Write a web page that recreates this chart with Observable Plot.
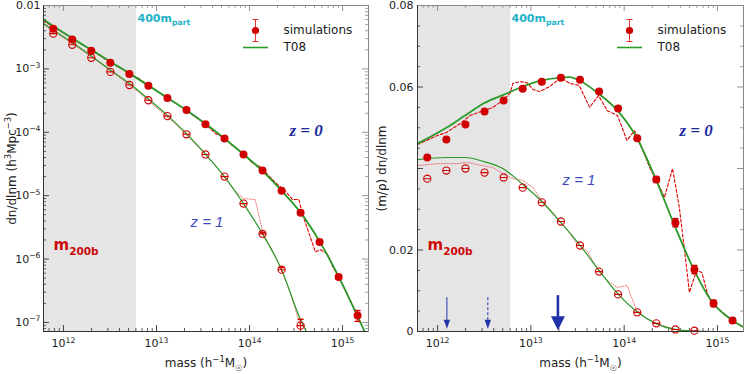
<!DOCTYPE html>
<html><head><meta charset="utf-8">
<script src="https://cdn.jsdelivr.net/npm/d3@7"></script>
<script src="https://cdn.jsdelivr.net/npm/@observablehq/plot@0.6"></script>
<style>
body{margin:0;background:#fff;}
#wrap{display:flex;width:747px;height:374px;overflow:hidden;}
</style></head><body><div id="wrap"></div>
<script>
// ---------- data ----------
const masses = [7.76e11, 1.243e12, 1.99e12, 3.19e12, 5.11e12, 8.18e12, 1.31e13, 2.10e13, 3.36e13, 5.38e13, 8.61e13, 1.38e14, 2.21e14, 3.54e14, 5.66e14, 9.07e14, 1.45e15];

// left panel: dn/dlnm
const simZ0 = [4.3e-3, 2.9e-3, 1.93e-3, 1.25e-3, 8.3e-4, 5.4e-4, 3.47e-4, 2.24e-4, 1.34e-4, 8.0e-5, 4.47e-5, 2.5e-5, 1.2e-5, 5.4e-6, 1.86e-6, 5.2e-7, 1.29e-7];
const simZ0Err = [0,0,0,0,0,0,0,0,0,0,0,0,0,3e-7,1.2e-7,4e-8,2.5e-8];
const simZ1 = [3.6e-3, 2.4e-3, 1.5e-3, 8.96e-4, 5.57e-4, 3.2e-4, 1.8e-4, 9.3e-5, 4.47e-5, 2.0e-5, 7.5e-6, 2.5e-6, 6.8e-7, 8.9e-8];
const simZ1Err = [0,0,0,0,0,0,0,0,0,0,0,1.5e-7,6e-8,2.3e-8];

const t08Z0Mass = [6.1e11, 7.76e11, 1.243e12, 1.99e12, 3.19e12, 5.11e12, 8.18e12, 1.31e13, 2.10e13, 3.36e13, 5.38e13, 8.61e13, 1.38e14, 2.21e14, 3.54e14, 5.66e14, 9.07e14, 1.45e15, 1.9e15];
const t08Z0 = [6.0e-3, 4.75e-3, 3.05e-3, 2.0e-3, 1.3e-3, 8.5e-4, 5.45e-4, 3.5e-4, 2.22e-4, 1.36e-4, 8.0e-5, 4.5e-5, 2.45e-5, 1.2e-5, 5.4e-6, 1.9e-6, 5.3e-7, 1.25e-7, 5.3e-8];
const t08Z1Mass = [6.1e11, 7.76e11, 1.243e12, 1.99e12, 3.19e12, 5.11e12, 8.18e12, 1.31e13, 2.10e13, 3.36e13, 5.38e13, 8.61e13, 1.38e14, 2.21e14, 3.54e14, 4.5e14];
const t08Z1 = [5.2e-3, 4.1e-3, 2.6e-3, 1.6e-3, 9.6e-4, 5.9e-4, 3.35e-4, 1.85e-4, 9.5e-5, 4.5e-5, 2.0e-5, 7.5e-6, 2.5e-6, 6.8e-7, 1.1e-7, 5.5e-8];

const fineZ0Mass = [6.1e11, 1e12, 1.7e12, 3.1e12, 5e12, 6.4e12, 9.1e12, 1.25e13, 1.6e13, 2.1e13, 2.6e13, 3.3e13, 4.3e13, 5.3e13, 6.6e13, 8.5e13, 1.07e14, 1.3e14, 1.5e14, 1.9e14, 2.4e14, 2.9e14, 3.4e14, 3.7e14, 4.3e14, 5.1e14, 5.8e14, 6.9e14, 7.9e14, 9.1e14, 1.15e15, 1.45e15];
const fineZ0 = [5.7e-3, 3.7e-3, 2.3e-3, 1.3e-3, 8.6e-4, 7.1e-4, 5.0e-4, 3.6e-4, 2.9e-4, 2.24e-4, 1.75e-4, 1.38e-4, 9.6e-5, 8.2e-5, 6.1e-5, 4.7e-5, 3.3e-5, 2.85e-5, 2.3e-5, 1.6e-5, 1.2e-5, 8.7e-6, 8.7e-6, 5.1e-6, 2.7e-6, 1.3e-6, 1.4e-6, 1.2e-6, 7.4e-7, 5.2e-7, 2.6e-7, 1.29e-7];
const fineZ1Mass = [6.1e11, 1e12, 2e12, 3.9e12, 6.4e12, 1.05e13, 1.6e13, 2.4e13, 3.3e13, 4.3e13, 5.3e13, 6.7e13, 8.6e13, 1.15e14, 1.4e14, 1.8e14, 2.2e14, 2.8e14, 3.5e14];
const fineZ1 = [5.0e-3, 3.1e-3, 1.55e-3, 7.5e-4, 4.3e-4, 2.3e-4, 1.35e-4, 7.4e-5, 4.6e-5, 3.0e-5, 2.0e-5, 1.26e-5, 9.0e-6, 8.7e-6, 2.5e-6, 1.3e-6, 6.8e-7, 2.7e-7, 9e-8];

// right panel: (m/rho) dn/dlnm
const fracZ0 = [0.0427, 0.0471, 0.0508, 0.0540, 0.0567, 0.0596, 0.0613, 0.0623, 0.0618, 0.0589, 0.0547, 0.0474, 0.0373, 0.0267, 0.0152, 0.0069, 0.0027];
const fracZ0Err = [0,0,0,0,0,0,0,0,0,0,0,0.0004,0.0007,0.0010,0.0010,0.0008,0.0005];
const fracZ1 = [0.0375, 0.0395, 0.0400, 0.0390, 0.0378, 0.0353, 0.0317, 0.0270, 0.0211, 0.0147, 0.0091, 0.0047, 0.0020, 0.0005, 0.0002];

const t08FracMass = [6.1e11, 1.24e12, 1.97e12, 3.14e12, 5.0e12, 8.0e12, 1.31e13, 2.1e13, 2.6e13, 3.3e13, 5.3e13, 8.5e13, 1.36e14, 2.17e14, 3.47e14, 5.5e14, 8.85e14, 1.45e15, 1.86e15];
const t08FracZ0 = [0.0461, 0.0500, 0.0530, 0.0560, 0.0580, 0.0600, 0.0616, 0.0623, 0.0624, 0.0616, 0.0584, 0.0542, 0.0476, 0.0375, 0.0260, 0.0155, 0.0071, 0.0027, 0.0012];
const t08FracZ1Mass = [6.1e11, 1.24e12, 1.97e12, 3.14e12, 5.0e12, 8.0e12, 1.31e13, 2.1e13, 3.3e13, 5.3e13, 8.5e13, 1.36e14, 2.17e14, 3.47e14, 5.5e14, 8.85e14, 1.86e15];
const t08FracZ1 = [0.0422, 0.0427, 0.0427, 0.0417, 0.0400, 0.0363, 0.0319, 0.0267, 0.0214, 0.0152, 0.0093, 0.0049, 0.0020, 0.0005, 0.0001, 0, 0];

const fineFracZ0Mass = [6.1e11, 1.0e12, 1.24e12, 1.74e12, 2.23e12, 3.14e12, 3.92e12, 5.0e12, 5.96e12, 6.43e12, 7.6e12, 9.06e12, 1.05e13, 1.24e13, 1.59e13, 2.1e13, 2.6e13, 3.3e13, 4.27e13, 5.3e13, 6.6e13, 8.5e13, 1.07e14, 1.29e14, 1.47e14, 1.88e14, 2.22e14, 2.7e14, 3.3e14, 3.9e14, 4.4e14, 5.0e14, 5.96e14, 6.8e14, 7.8e14, 8.85e14, 1.13e15, 1.45e15];
const fineFracZ0 = [0.0459, 0.0481, 0.0488, 0.0510, 0.0530, 0.0542, 0.0550, 0.0567, 0.0584, 0.0609, 0.0613, 0.0611, 0.0594, 0.0589, 0.0601, 0.0623, 0.0609, 0.0604, 0.0550, 0.0579, 0.0542, 0.0530, 0.0469, 0.0493, 0.0464, 0.0402, 0.0371, 0.0329, 0.0400, 0.0304, 0.0206, 0.0096, 0.0150, 0.0145, 0.0093, 0.0069, 0.0047, 0.0027];
const fineFracZ1Mass = [6.1e11, 1.0e12, 1.61e12, 2.07e12, 2.64e12, 3.92e12, 5.0e12, 6.43e12, 8.2e12, 1.05e13, 1.31e13, 1.64e13, 2.1e13, 2.4e13, 3.1e13, 3.96e13, 5.3e13, 6.6e13, 8.5e13, 1.07e14, 1.36e14, 1.74e14, 2.22e14, 3.5e14];
const fineFracZ1 = [0.0407, 0.0412, 0.0412, 0.0415, 0.0410, 0.0402, 0.0388, 0.0375, 0.0371, 0.0353, 0.0321, 0.0297, 0.0267, 0.0253, 0.0216, 0.0199, 0.0150, 0.0125, 0.0108, 0.0113, 0.0052, 0.0032, 0.0020, 0.0005];

// arrows (right panel)
const arrowMass = [1.26e12, 3.46e12, 1.95e13];
const arrowTop = [0.0083, 0.0083, 0.0088];
const arrowTip = [0.0007, 0.0007, 0.0003];

// ticks
const xTickValues = [1e12, 1e13, 1e14, 1e15];
const xTickLabels = ["10^{12}", "10^{13}", "10^{14}", "10^{15}"];
const leftYTickValues = [1e-2, 1e-3, 1e-4, 1e-5, 1e-6, 1e-7];
const leftYTickLabels = ["0.01", "10^{−3}", "10^{−4}", "10^{−5}", "10^{−6}", "10^{−7}"];
const rightYTickValues = [0, 0.02, 0.06, 0.08];
const rightYTickLabels = ["0", "0.02", "0.06", "0.08"];
const rightYMajorMarks = [0, 0.02, 0.04, 0.06, 0.08];

const xDomain = [6.1e11, 1.9e15];
const grayEdge = 6.1e12;

// ---------- helpers ----------
const H = 374, MT = 5, MB = 43, FH = H - MT - MB;
const RED = "#d00000", GREEN = "#2a9a2a", BLUE = "#1d2b9e", BLUE2 = "#3c4cc0";
const FONT = '"DejaVu Sans", sans-serif';
const rows = (ms, vs, es) => vs.map((v, i) => ({m: ms[i], v, e: es ? es[i] : 0}));
const pairs = (ms, vs) => vs.map((v, i) => ({m: ms[i], v}));
const openSym = {draw(c, size){const r = Math.sqrt(size / Math.PI); c.moveTo(r, 0); c.arc(0, 0, r, 0, 2 * Math.PI); c.moveTo(-r, 0); c.lineTo(r, 0);}};
const capSym = {draw(c){c.moveTo(-3, 0); c.lineTo(3, 0);}};
const errSym = {draw(c){c.moveTo(0, -11); c.lineTo(0, 11); c.moveTo(-3, -11); c.lineTo(3, -11); c.moveTo(-3, 11); c.lineTo(3, 11);}};
const lineSym = {draw(c){c.moveTo(-12.5, 0); c.lineTo(12.5, 0);}};
const triDown = (w, h) => ({draw(c){c.moveTo(0, 0); c.lineTo(-w, -h); c.lineTo(w, -h); c.closePath();}});

const xAll = d3.scaleLog().domain(xDomain).ticks();
const xMinor = xAll.filter(t => !xTickValues.some(m => Math.abs(m - t) / m < 1e-9));

function xFrameMarks(FW) {
  return [
    Plot.tickX(xMinor, {x: d => d, insetTop: FH - 3, stroke: "#333", strokeWidth: 0.8}),
    Plot.tickX(xTickValues, {x: d => d, insetTop: FH - 6, stroke: "#333", strokeWidth: 0.9}),
    Plot.tickX(xMinor, {x: d => d, insetBottom: FH - 3, stroke: "#888", strokeWidth: 0.8}),
    Plot.tickX(xTickValues, {x: d => d, insetBottom: FH - 6, stroke: "#888", strokeWidth: 0.9}),
    Plot.axisX({ticks: xTickValues, tickSize: 0, tickPadding: 8, label: null, tickFormat: d => xTickLabels[xTickValues.indexOf(d)], fontSize: 11})
  ];
}
function yFrameMarks(FW, major, minor) {
  return [
    Plot.tickY(minor, {y: d => d, insetRight: FW - 3, stroke: "#333", strokeWidth: 0.8}),
    Plot.tickY(major, {y: d => d, insetRight: FW - 6, stroke: "#333", strokeWidth: 0.9}),
    Plot.tickY(minor, {y: d => d, insetLeft: FW - 3, stroke: "#888", strokeWidth: 0.8}),
    Plot.tickY(major, {y: d => d, insetLeft: FW - 6, stroke: "#888", strokeWidth: 0.9})
  ];
}
function legendMarks() {
  return [
    Plot.dot(["e"], {frameAnchor: "top-left", dx: 212, dy: 25, symbol: errSym, stroke: "#e03030", fill: "none", strokeWidth: 1}),
    Plot.dot(["d"], {frameAnchor: "top-left", dx: 212, dy: 25, r: 3.6, fill: RED, stroke: "none"}),
    Plot.dot(["l"], {frameAnchor: "top-left", dx: 212, dy: 42, symbol: lineSym, stroke: GREEN, fill: "none", strokeWidth: 1.6}),
    Plot.text(["simulations"], {frameAnchor: "top-left", dx: 240, dy: 25, textAnchor: "start", lineAnchor: "middle", fontSize: 12, fill: "#222"}),
    Plot.text(["T08"], {frameAnchor: "top-left", dx: 240, dy: 42, textAnchor: "start", lineAnchor: "middle", fontSize: 12, fill: "#222"})
  ];
}
function annotationMarks(z0dx, z1dx, z1dy) {
  return [
    Plot.text(["400m_{part}"], {frameAnchor: "top-left", dx: 94, dy: 13, lineAnchor: "middle", fontSize: 11, fontWeight: "bold", fill: "#22b2c8"}),
    Plot.text(["m_{200b}"], {frameAnchor: "top-left", dx: 10, dy: 240, textAnchor: "start", lineAnchor: "middle", fontSize: 15, fontWeight: "bold", fill: "#cc0a0a"}),
    Plot.text(["z = 0"], {frameAnchor: "top-left", dx: z0dx, dy: 125, lineAnchor: "middle", fontSize: 17, fontWeight: "bold", fontStyle: "italic", fontFamily: '"Liberation Serif", serif', fill: BLUE}),
    Plot.text(["z = 1"], {frameAnchor: "top-left", dx: z1dx, dy: z1dy, lineAnchor: "middle", fontSize: 15, fontStyle: "italic", fontFamily: '"Liberation Sans", sans-serif', fill: BLUE2})
  ];
}
function pointMarks(z0, z1) {
  return [
    Plot.ruleX(z0.filter(d => d.e > 0), {x: "m", y1: d => d.v - d.e, y2: d => d.v + d.e, stroke: RED, strokeWidth: 1, clip: true}),
    Plot.dot(z0.filter(d => d.e > 0), {x: "m", y: d => d.v + d.e, symbol: capSym, stroke: RED, fill: "none", clip: true}),
    Plot.dot(z0.filter(d => d.e > 0 && d.v - d.e > 0), {x: "m", y: d => d.v - d.e, symbol: capSym, stroke: RED, fill: "none", clip: true}),
    Plot.ruleX(z1.filter(d => d.e > 0), {x: "m", y1: d => d.v - d.e, y2: d => d.v + d.e, stroke: RED, strokeWidth: 1, clip: true}),
    Plot.dot(z1.filter(d => d.e > 0), {x: "m", y: d => d.v + d.e, symbol: capSym, stroke: RED, fill: "none", clip: true}),
    Plot.dot(z0, {x: "m", y: "v", r: 4, fill: RED, stroke: "none"}),
    Plot.dot(z1, {x: "m", y: "v", r: 3.6, symbol: openSym, stroke: RED, strokeWidth: 1.1, fill: "none"})
  ];
}

// rich text: ^{..} superscript, _{..} subscript
const NS = "http://www.w3.org/2000/svg";
function richText(svg) {
  for (const t of svg.querySelectorAll("text")) {
    const s = t.textContent;
    if (!/[\^_]\{/.test(s)) continue;
    const parts = []; const re = /([\^_])\{([^}]*)\}/g; let last = 0, m;
    while ((m = re.exec(s))) { if (m.index > last) parts.push(["", s.slice(last, m.index)]); parts.push([m[1], m[2]]); last = re.lastIndex; }
    if (last < s.length) parts.push(["", s.slice(last)]);
    while (t.firstChild) t.removeChild(t.firstChild);
    let cur = 0;
    for (const [k, str] of parts) {
      const sp = document.createElementNS(NS, "tspan");
      const target = k === "^" ? -0.42 : k === "_" ? 0.28 : 0;
      const scale = k ? 0.7 : 1;
      if (k) sp.setAttribute("font-size", "70%");
      const delta = target - cur;
      if (delta !== 0) sp.setAttribute("dy", (delta / scale).toFixed(3) + "em");
      cur = target;
      sp.textContent = str;
      t.appendChild(sp);
    }
  }
}

// ---------- left panel ----------
const W1 = 373, ML1 = 43, MR1 = 5, FW1 = W1 - ML1 - MR1;
const yL = [7.2e-8, 0.01];
const yLAll = d3.scaleLog().domain(yL).ticks();
const yLMinor = yLAll.filter(t => !leftYTickValues.some(m => Math.abs(m - t) / m < 1e-9));

const left = Plot.plot({
  width: W1, height: H, marginTop: MT, marginBottom: MB, marginLeft: ML1, marginRight: MR1,
  style: {fontFamily: FONT, fontSize: "11px", color: "#222", background: "#fff"},
  x: {type: "log", domain: xDomain, axis: null},
  y: {type: "log", domain: yL, axis: null},
  marks: [
    Plot.rect([0], {x1: xDomain[0], x2: grayEdge, fill: "#e5e5e5"}),
    ...xFrameMarks(FW1),
    ...yFrameMarks(FW1, leftYTickValues, yLMinor),
    Plot.axisY({ticks: leftYTickValues, tickSize: 0, tickPadding: 3, label: null, tickFormat: d => leftYTickLabels[leftYTickValues.indexOf(d)], fontSize: 11}),
    Plot.line(pairs(fineZ1Mass, fineZ1), {x: "m", y: "v", stroke: "#ee5555", strokeWidth: 0.8, strokeDasharray: "1.2,1.5", clip: true}),
    Plot.line(pairs(fineZ0Mass, fineZ0), {x: "m", y: "v", stroke: "#e00000", strokeWidth: 1.1, strokeDasharray: "3,2", clip: true}),
    Plot.line(pairs(t08Z1Mass, t08Z1), {x: "m", y: "v", stroke: GREEN, strokeWidth: 1.2, curve: "monotone-x", clip: true}),
    Plot.line(pairs(t08Z0Mass, t08Z0), {x: "m", y: "v", stroke: GREEN, strokeWidth: 1.8, curve: "monotone-x", clip: true}),
    ...pointMarks(rows(masses, simZ0, simZ0Err), rows(masses, simZ1, simZ1Err)),
    ...legendMarks(),
    ...annotationMarks(246, 147, 217),
    Plot.text(["dn/dlnm (h^{3}Mpc^{−3})"], {frameAnchor: "left", dx: -31, rotate: -90, textAnchor: "middle", lineAnchor: "middle", fontSize: 12, fill: "#222"}),
    Plot.text(["mass (h^{−1}M_{☉})"], {frameAnchor: "bottom", dy: 32, lineAnchor: "middle", fontSize: 12, fill: "#222"}),
    Plot.frame({stroke: "#888"}),
    Plot.ruleX([xDomain[0]], {stroke: "#333"}),
    Plot.ruleY([yL[0]], {stroke: "#333"})
  ]
});

// ---------- right panel ----------
const W2 = 374, ML2 = 44, MR2 = 4, FW2 = W2 - ML2 - MR2;
const yR = [0, 0.08];
const yRMinor = d3.range(0, 0.0801, 0.005).filter(v => !rightYMajorMarks.some(m => Math.abs(m - v) < 1e-9));
const BLUE_A = "#2233aa";

const right = Plot.plot({
  width: W2, height: H, marginTop: MT, marginBottom: MB, marginLeft: ML2, marginRight: MR2,
  style: {fontFamily: FONT, fontSize: "11px", color: "#222", background: "#fff"},
  x: {type: "log", domain: xDomain, axis: null},
  y: {domain: yR, axis: null},
  marks: [
    Plot.rect([0], {x1: xDomain[0], x2: grayEdge, fill: "#e5e5e5"}),
    ...xFrameMarks(FW2),
    ...yFrameMarks(FW2, rightYMajorMarks, yRMinor),
    Plot.axisY({ticks: rightYTickValues, tickSize: 0, tickPadding: 4, label: null, tickFormat: d => rightYTickLabels[rightYTickValues.indexOf(d)], fontSize: 11}),
    Plot.line(pairs(fineFracZ1Mass, fineFracZ1), {x: "m", y: "v", stroke: "#ee5555", strokeWidth: 0.8, strokeDasharray: "1.2,1.5", clip: true}),
    Plot.line(pairs(fineFracZ0Mass, fineFracZ0), {x: "m", y: "v", stroke: "#e00000", strokeWidth: 1.1, strokeDasharray: "3,2", clip: true}),
    Plot.line(pairs(t08FracZ1Mass, t08FracZ1), {x: "m", y: "v", stroke: GREEN, strokeWidth: 1.2, curve: "monotone-x", clip: true}),
    Plot.line(pairs(t08FracMass, t08FracZ0), {x: "m", y: "v", stroke: GREEN, strokeWidth: 1.8, curve: "monotone-x", clip: true}),
    ...pointMarks(rows(masses, fracZ0, fracZ0Err), rows(masses, fracZ1, null)),
    // arrows
    Plot.ruleX([arrowMass[0]], {x: d => d, y1: arrowTop[0], y2: arrowTip[0] + 0.0018, stroke: BLUE_A, strokeWidth: 1}),
    Plot.dot([arrowMass[0]], {x: d => d, y: arrowTip[0], symbol: triDown(3.2, 9), fill: BLUE_A, stroke: "none"}),
    Plot.ruleX([arrowMass[1]], {x: d => d, y1: arrowTop[1], y2: arrowTip[1] + 0.0018, stroke: BLUE_A, strokeWidth: 1, strokeDasharray: "3,2"}),
    Plot.dot([arrowMass[1]], {x: d => d, y: arrowTip[1], symbol: triDown(3.2, 9), fill: BLUE_A, stroke: "none"}),
    Plot.ruleX([arrowMass[2]], {x: d => d, y1: arrowTop[2], y2: arrowTip[2] + 0.0028, stroke: BLUE_A, strokeWidth: 2.6}),
    Plot.dot([arrowMass[2]], {x: d => d, y: arrowTip[2], symbol: triDown(7, 14), fill: BLUE_A, stroke: "none"}),
    ...legendMarks(),
    ...annotationMarks(262, 145, 175),
    Plot.text(["(m/ρ) dn/dlnm"], {frameAnchor: "left", dx: -35, rotate: -90, textAnchor: "middle", lineAnchor: "middle", fontSize: 12, fill: "#222"}),
    Plot.text(["mass (h^{−1}M_{☉})"], {frameAnchor: "bottom", dy: 32, lineAnchor: "middle", fontSize: 12, fill: "#222"}),
    Plot.frame({stroke: "#888"}),
    Plot.ruleX([xDomain[0]], {stroke: "#333"}),
    Plot.ruleY([0], {stroke: "#333"})
  ]
});

richText(left); richText(right);
const wrap = document.getElementById("wrap");
wrap.appendChild(left); wrap.appendChild(right);
</script>
</body></html>
